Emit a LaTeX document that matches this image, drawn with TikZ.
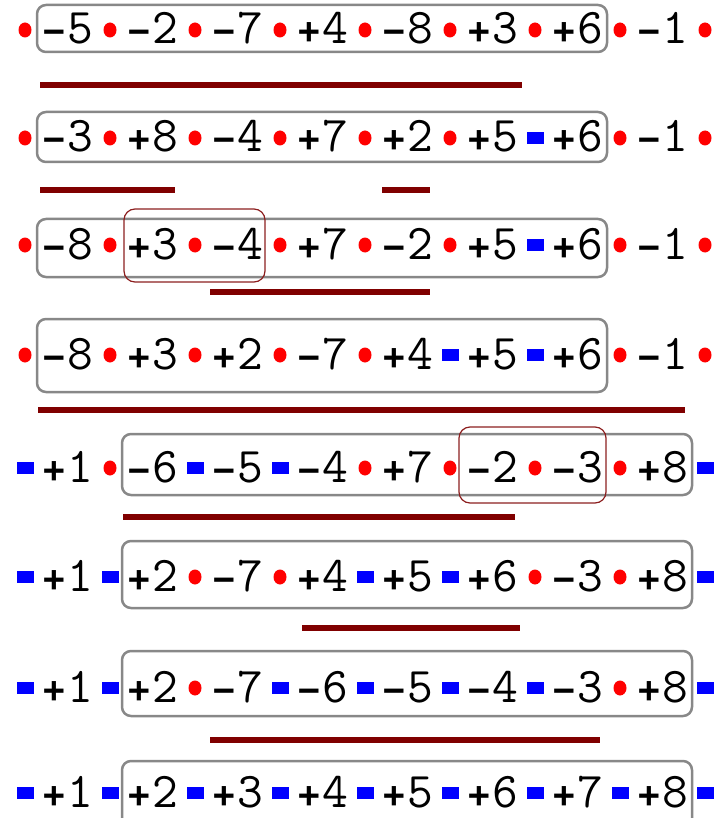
\documentclass[tikz,border=0pt]{standalone}
\usepackage{fontspec}
\setmonofont{Latin Modern Mono}
\newfontfamily\signfont{DejaVu Sans Mono}
\definecolor{barred}{RGB}{128,0,0}
\definecolor{boxgrey}{RGB}{136,136,136}
\definecolor{hlred}{RGB}{140,30,30}
\newcommand\sgnbox[1]{\makebox[25pt]{\fontsize{36}{40}\signfont\bfseries #1}}
\newcommand\signed[1]{\expandafter\signedx#1\relax}
\def\signedx#1#2\relax{\ifx#1-\sgnbox{−}\else\sgnbox{+}\fi#2}
\tikzset{
  sepr/.style={ellipse, fill=red, inner sep=0pt, minimum width=13pt, minimum height=15pt},
  sepb/.style={rectangle, fill=blue, inner sep=0pt, minimum width=17pt, minimum height=12pt},
  num/.style={anchor=base, inner sep=0pt, font=\fontsize{50}{52}\ttfamily},
  gbox/.style={draw=boxgrey, line width=2.5pt, rounded corners=9pt},
  hbox/.style={draw=hlred, line width=1.2pt, rounded corners=11pt},
  barline/.style={draw=barred, line width=6pt}
}
\usetikzlibrary{shapes.geometric}
\newcommand\rowdraw[4]{%
  \foreach[count=\k from 0] \ty in {#3} {\node[sep\ty] (r#1s\k) at ({25+85*\k},#2) {};}
  \foreach[count=\k] \n in {#4} {\node[num] (r#1n\k) at ({-17.5+85*\k},#2+14) {\signed\n};}
}
\begin{document}
\begin{tikzpicture}[x=1pt,y=-1pt]
\useasboundingbox (0,0) rectangle (717,818);
% grey boxes
\draw[gbox] (37,5) rectangle (607,52);
\draw[gbox] (37,112) rectangle (607,162);
\draw[gbox] (37,219) rectangle (607,277);
\draw[gbox] (37,319) rectangle (607,392);
\draw[gbox] (122,434) rectangle (692,495);
\draw[gbox] (122,541) rectangle (692,608);
\draw[gbox] (122,651) rectangle (692,716);
\begin{scope}
\clip (0,0) rectangle (717,818);
\draw[gbox] (122,761) rectangle (692,845);
\end{scope}
% highlight boxes
\draw[hbox] (124,209) rectangle (265,282);
\draw[hbox] (459,427) rectangle (606,503);
% rows
\rowdraw{1}{30}{r,r,r,r,r,r,r,r,r}{-5,-2,-7,+4,-8,+3,+6,-1}
\rowdraw{2}{138}{r,r,r,r,r,r,b,r,r}{-3,+8,-4,+7,+2,+5,+6,-1}
\rowdraw{3}{245}{r,r,r,r,r,r,b,r,r}{-8,+3,-4,+7,-2,+5,+6,-1}
\rowdraw{4}{355}{r,r,r,r,r,b,b,r,r}{-8,+3,+2,-7,+4,+5,+6,-1}
\rowdraw{5}{468}{b,r,b,b,r,r,r,r,b}{+1,-6,-5,-4,+7,-2,-3,+8}
\rowdraw{6}{577}{b,b,r,r,b,b,r,r,b}{+1,+2,-7,+4,+5,+6,-3,+8}
\rowdraw{7}{688}{b,b,r,b,b,b,b,r,b}{+1,+2,-7,-6,-5,-4,-3,+8}
\rowdraw{8}{793}{b,b,b,b,b,b,b,b,b}{+1,+2,+3,+4,+5,+6,+7,+8}
% bars
\draw[barline] (40,85) -- (522,85);
\draw[barline] (40,190) -- (175,190);
\draw[barline] (382,190) -- (430,190);
\draw[barline] (210,292) -- (430,292);
\draw[barline] (38,410) -- (685,410);
\draw[barline] (123,517) -- (515,517);
\draw[barline] (302,628) -- (520,628);
\draw[barline] (210,740) -- (600,740);
\end{tikzpicture}
\end{document}
